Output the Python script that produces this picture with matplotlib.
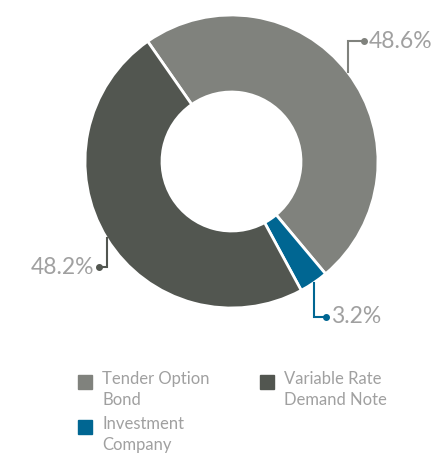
import numpy as np
import matplotlib.pyplot as plt
from matplotlib.patches import Rectangle

# portfolio composition by security type
categories = ['Tender Option\nBond', 'Investment\nCompany', 'Variable Rate\nDemand Note']
shares = [48.6, 3.2, 48.2]
colors = ['#80827d', '#006692', '#525650']

plt.rcParams['font.family'] = ['Lato', 'DejaVu Sans']

W, H = 445, 455
cx, cy = 231.5, H - 161.5
r_out, r_in = 146.5, 69.5
text_grey = '#a0a0a0'

fig = plt.figure(figsize=(W / 100, H / 100), dpi=100)
ax = fig.add_axes([0, 0, 1, 1])

wedges, _ = ax.pie(shares, colors=colors, startangle=124.9, counterclock=False,
                   center=(cx, cy), radius=r_out, frame=True,
                   wedgeprops=dict(width=r_out - r_in, edgecolor='white', linewidth=2))
ax.set_xlim(0, W)
ax.set_ylim(0, H)
ax.axis('off')

# leader lines: vertical run then short horizontal run to a dot
rises = [31, -34, -29]
runs = [16, 12, -8]
for w, val, dy, dx in zip(wedges, shares, rises, runs):
    ang = np.deg2rad((w.theta1 + w.theta2) / 2)
    x0 = cx + r_out * np.cos(ang)
    y0 = cy + r_out * np.sin(ang)
    y1 = y0 + dy
    x1 = x0 + dx
    c = w.get_facecolor()
    ax.plot([x0, x0, x1], [y0, y1, y1], color=c, lw=1.5, solid_joinstyle='miter')
    ax.plot(x1, y1, 'o', ms=4, color=c)
    ha = 'left' if dx > 0 else 'right'
    ax.text(x1 + np.sign(dx) * 5, y1, f'{val}%', ha=ha, va='center',
            color=text_grey, fontsize=16.5)

# legend, two columns
legend_pos = [(78, 375), (78, 420), (260, 375)]
for (lx, ly), name, c in zip(legend_pos, categories, colors):
    ax.add_patch(Rectangle((lx, H - ly - 14), 14, 14, color=c))
    ax.text(lx + 24, H - ly + 4, name, ha='left', va='top', color=text_grey,
            fontsize=12, linespacing=1.4)

fig.savefig('out.png', dpi=100)
